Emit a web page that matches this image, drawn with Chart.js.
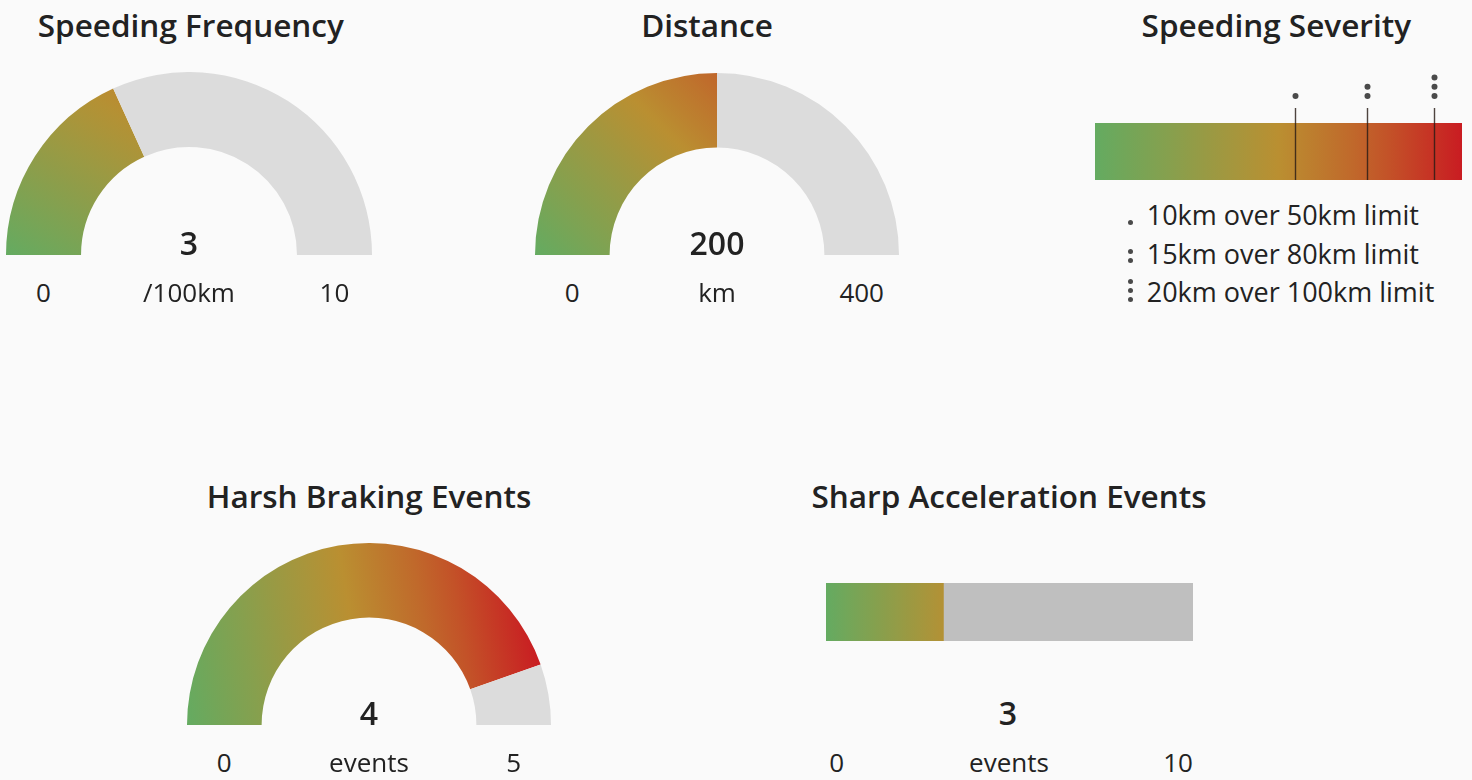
<!DOCTYPE html>
<html><head><meta charset="utf-8">
<script src="https://cdn.jsdelivr.net/npm/chart.js@4.4.1/dist/chart.umd.min.js"></script>
<style>
html,body{margin:0;padding:0;background:#fafafa;}
body{width:1472px;height:780px;position:relative;overflow:hidden;font-family:"Open Sans",sans-serif;color:#222;}
canvas{position:absolute;}
.t{position:absolute;white-space:nowrap;line-height:normal;}
.dot{position:absolute;width:5px;height:5px;border-radius:50%;background:#4a4a4a;}
</style></head><body>
<script>
// ---------- DATA ----------
const gaugeTitles = ['Speeding Frequency', 'Distance', 'Harsh Braking Events'];
const gaugeValues = [3.64, 200, 4.46];
const gaugeValueLabels = ['3', '200', '4'];
const gaugeMins = [0, 0, 0];
const gaugeMaxes = [10, 400, 5];
const gaugeUnits = ['/100km', 'km', 'events'];

const severityTitle = 'Speeding Severity';
const severityMin = 0;
const severityMax = 100;
const severityMarkers = [54.4, 74.0, 92.3];
const severityDots = [1, 2, 3];
const severityLegend = ['10km over 50km limit', '15km over 80km limit', '20km over 100km limit'];

const accelTitle = 'Sharp Acceleration Events';
const accelValue = 3.2;
const accelValueLabel = '3';
const accelMin = 0;
const accelMax = 10;
const accelUnit = 'events';

// ---------- LAYOUT / STYLE ----------
const gaugeBoxes = [
  {left: 6, top: 72, w: 366, h: 183, titleX: 190.8, titleY: 36.7},
  {left: 535, top: 73, w: 364, h: 182, titleX: 707, titleY: 36.7},
  {left: 187, top: 543, w: 364, h: 182, titleX: 369, titleY: 507.3}
];
const TRACK = '#dcdcdc';
const stops = [[0, [100, 171, 97]], [0.5, [186, 143, 49]], [0.75, [193, 95, 42]], [1, [201, 28, 34]]];
function colorAt(t) {
  t = Math.max(0, Math.min(1, t));
  for (let i = 1; i < stops.length; i++) {
    if (t <= stops[i][0]) {
      const [t0, c0] = stops[i - 1], [t1, c1] = stops[i];
      const u = (t - t0) / (t1 - t0);
      const c = c0.map((v, k) => Math.round(v + (c1[k] - v) * u));
      return `rgb(${c[0]},${c[1]},${c[2]})`;
    }
  }
  return 'rgb(201,28,34)';
}
function addText(str, x, baseline, size, weight, align) {
  const el = document.createElement('div');
  el.className = 't';
  el.textContent = str;
  el.style.fontSize = size + 'px';
  el.style.fontWeight = weight;
  el.style.top = (baseline - 1.069 * size) + 'px';
  el.style.left = x + 'px';
  if (align !== 'left') el.style.transform = 'translateX(-50%)';
  document.body.appendChild(el);
}
function addCanvas(left, top, w, h) {
  const c = document.createElement('canvas');
  c.width = w; c.height = h;
  c.style.left = left + 'px'; c.style.top = top + 'px';
  c.style.width = w + 'px'; c.style.height = h + 'px';
  document.body.appendChild(c);
  return c;
}
const baseOpts = {
  responsive: false, maintainAspectRatio: false, animation: false, events: [],
  devicePixelRatio: 1,
  plugins: {legend: {display: false}, tooltip: {enabled: false}, title: {display: false}}
};

// ---------- GAUGES ----------
gaugeTitles.forEach((title, i) => {
  const b = gaugeBoxes[i];
  const cnv = addCanvas(b.left, b.top, b.w, b.h);
  const span = gaugeMaxes[i] - gaugeMins[i];
  const frac = (gaugeValues[i] - gaugeMins[i]) / span;
  const fill = (ctx) => {
    if (ctx.dataIndex === 1) return TRACK;
    const chart = ctx.chart, a = chart.chartArea;
    if (!a) return colorAt(0);
    const R = Math.min(a.width / 2, a.height);
    const cx = (a.left + a.right) / 2, cy = a.top + a.height / 2 + R / 2;
    const ang = Math.PI + frac * Math.PI;
    const g = chart.ctx.createLinearGradient(cx - R, cy, cx + R * Math.cos(ang), cy + R * Math.sin(ang));
    const end = Math.min(1, frac / 0.7);
    for (let k = 0; k <= 10; k++) g.addColorStop(k / 10, colorAt(k / 10 * end));
    return g;
  };
  const chart = new Chart(cnv, {
    type: 'doughnut',
    data: {
      labels: ['value', 'rest'],
      datasets: [{
        data: [gaugeValues[i] - gaugeMins[i], gaugeMaxes[i] - gaugeValues[i]],
        backgroundColor: fill,
        borderWidth: 0
      }]
    },
    options: Object.assign({}, baseOpts, {rotation: -90, circumference: 180, cutout: '59%', layout: {padding: 0}})
  });
  const arc = chart.getDatasetMeta(0).data[0];
  const cx = b.left + arc.x, cy = b.top + arc.y;
  const R = arc.outerRadius, r = arc.innerRadius;
  addText(title, b.titleX, b.titleY, 31.5, 600);
  addText(gaugeValueLabels[i], cx, cy, 32, 600);
  addText(String(gaugeMins[i]), cx - (R + r) / 2, cy + 46.5, 26, 400);
  addText(gaugeUnits[i], cx, cy + 46.5, 26, 400);
  addText(String(gaugeMaxes[i]), cx + (R + r) / 2, cy + 46.5, 26, 400);
});

// ---------- SPEEDING SEVERITY ----------
(function () {
  const cnv = addCanvas(1095, 70, 367, 110);
  const markerPlugin = {
    id: 'sevMarkers',
    afterDatasetsDraw(chart) {
      const {ctx, chartArea: a, scales: {x}} = chart;
      severityMarkers.forEach((v, i) => {
        const px = Math.round(x.getPixelForValue(v)) + 0.5;
        ctx.save();
        ctx.strokeStyle = 'rgba(40,28,22,0.82)';
        ctx.lineWidth = 1.4;
        ctx.beginPath(); ctx.moveTo(px, a.top - 15); ctx.lineTo(px, a.bottom); ctx.stroke();
        ctx.fillStyle = '#4a4a4a';
        for (let d = 0; d < severityDots[i]; d++) {
          ctx.beginPath(); ctx.arc(px, a.top - 27 - d * 9.3, 3, 0, Math.PI * 2); ctx.fill();
        }
        ctx.restore();
      });
    }
  };
  new Chart(cnv, {
    type: 'bar',
    data: {
      labels: [''],
      datasets: [{
        data: [severityMax],
        backgroundColor: (ctx) => {
          const chart = ctx.chart, a = chart.chartArea;
          if (!a) return colorAt(0);
          const g = chart.ctx.createLinearGradient(a.left, 0, a.right, 0);
          for (let k = 0; k <= 10; k++) g.addColorStop(k / 10, colorAt(k / 10));
          return g;
        },
        borderWidth: 0, barPercentage: 1, categoryPercentage: 1
      }]
    },
    options: Object.assign({}, baseOpts, {
      indexAxis: 'y',
      layout: {padding: {top: 53, left: 0, right: 0, bottom: 0}},
      scales: {x: {display: false, min: severityMin, max: severityMax}, y: {display: false}}
    }),
    plugins: [markerPlugin]
  });
  addText(severityTitle, 1276.3, 36.7, 31.5, 600);
  const baselines = [225, 263.5, 302];
  severityLegend.forEach((txt, i) => {
    addText(txt, 1146.7, baselines[i], 27, 400, 'left');
    for (let d = 0; d < severityDots[i]; d++) {
      const dot = document.createElement('div');
      dot.className = 'dot';
      dot.style.left = (1130 - 2.5) + 'px';
      dot.style.top = (baselines[i] - 3 - d * 8.6 - 2.5) + 'px';
      document.body.appendChild(dot);
    }
  });
})();

// ---------- SHARP ACCELERATION ----------
(function () {
  const cnv = addCanvas(826, 583, 367, 58);
  const frac = (accelValue - accelMin) / (accelMax - accelMin);
  new Chart(cnv, {
    type: 'bar',
    data: {
      labels: [''],
      datasets: [{
        data: [accelValue - accelMin],
        backgroundColor: (ctx) => {
          const chart = ctx.chart, a = chart.chartArea;
          if (!a) return colorAt(0);
          const x = chart.scales.x;
          const x0 = x.getPixelForValue(accelMin), x1 = x.getPixelForValue(accelValue);
          const g = chart.ctx.createLinearGradient(x0, 0, x1, 0);
          const end = Math.min(1, frac / 0.7);
          for (let k = 0; k <= 10; k++) g.addColorStop(k / 10, colorAt(k / 10 * end));
          return g;
        },
        borderWidth: 0, barPercentage: 1, categoryPercentage: 1
      }, {
        data: [accelMax - accelValue],
        backgroundColor: '#bfbfbf',
        borderWidth: 0, barPercentage: 1, categoryPercentage: 1
      }]
    },
    options: Object.assign({}, baseOpts, {
      indexAxis: 'y',
      layout: {padding: 0},
      scales: {x: {display: false, stacked: true, min: 0, max: accelMax - accelMin}, y: {display: false, stacked: true}}
    })
  });
  addText(accelTitle, 1009, 507.3, 31.5, 600);
  addText(accelValueLabel, 1008, 725, 32, 600);
  addText(String(accelMin), 836.7, 772, 26, 400);
  addText(accelUnit, 1009, 772, 26, 400);
  addText(String(accelMax), 1178, 772, 26, 400);
})();
</script>
</body></html>
